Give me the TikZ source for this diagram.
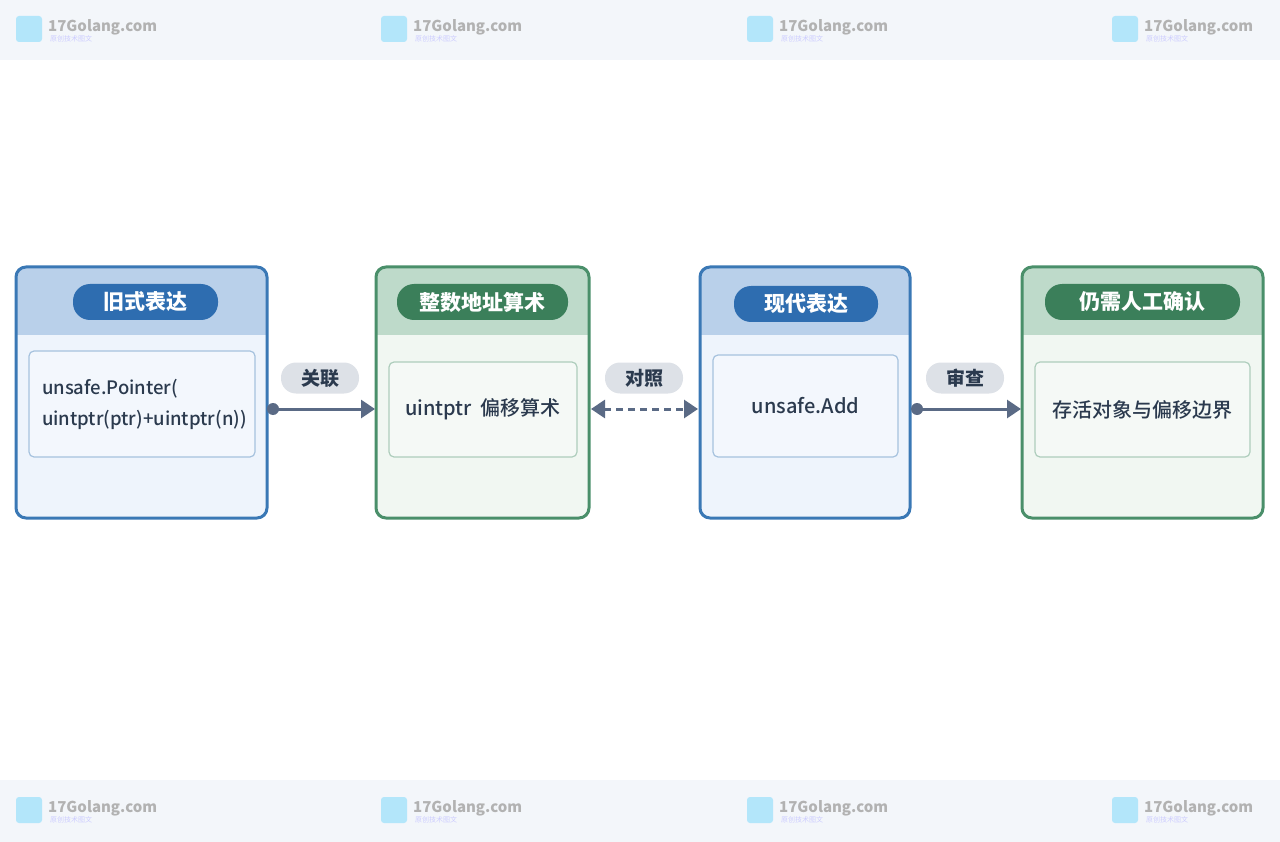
\documentclass[tikz,border=0pt]{standalone}
\usepackage{fontspec}
\setmainfont{Noto Sans CJK SC}
\newfontfamily\medf{Noto Sans CJK SC Medium}
\usetikzlibrary{arrows.meta}
\definecolor{bb}{HTML}{3A78B5}\definecolor{bh}{HTML}{B9D0EA}\definecolor{bf}{HTML}{EEF4FC}\definecolor{bp}{HTML}{2E6DB0}
\definecolor{gb}{HTML}{4A8F6A}\definecolor{gh}{HTML}{BEDACA}\definecolor{gf}{HTML}{F1F7F2}\definecolor{gp}{HTML}{3B7F5A}
\definecolor{ar}{HTML}{5A6A85}\definecolor{lp}{HTML}{DDE1E7}\definecolor{wm}{HTML}{F3F6FA}\definecolor{tx}{HTML}{2B3A4E}
\begin{document}
\begin{tikzpicture}[x=1pt,y=-1pt,
 pill/.style={rounded corners=17pt,text=white,font=\fontsize{21}{24}\selectfont\bfseries,minimum height=36pt,inner sep=0pt},
 inner/.style={draw=#1!45,line width=1.2pt,rounded corners=5pt,fill=white,fill opacity=0.35,text opacity=1,text=tx,font=\fontsize{20}{31}\selectfont\medf,align=left,inner sep=0pt},
 lab/.style={fill=lp,rounded corners=15pt,minimum width=78pt,minimum height=31pt,text=tx,font=\fontsize{19}{20}\selectfont\bfseries,inner sep=0pt},
 con/.style={draw=ar,line width=3pt,-{Triangle[length=14pt,width=18pt]}},
 wmt/.style={text=gray!60,font=\fontsize{15}{16}\selectfont\bfseries,anchor=west,inner sep=0pt}]
\useasboundingbox (0,0) rectangle (1280,842);
\fill[wm] (0,0) rectangle (1280,60);
\fill[wm] (0,780) rectangle (1280,842);
\foreach \x in {16,381,747,1112}{
 \foreach \y in {16,797}{
  \fill[cyan!30,rounded corners=3pt] (\x,\y) rectangle ++(26,26);
  \node[wmt] at (\x+32,\y+11) {17Golang.com};
  \node[anchor=west,inner sep=0pt,text=blue!20,font=\fontsize{7}{8}\selectfont] at (\x+34,\y+23) {原创技术图文};
 }}
\newcommand\mybox[3]{%
 \begin{scope}
 \clip[rounded corners=10pt] (#1,267) rectangle (#2,518);
 \fill[#3f] (#1,267) rectangle (#2,518);
 \fill[#3h] (#1,267) rectangle (#2,335);
 \end{scope}
 \draw[#3b,line width=3pt,rounded corners=10pt] (#1,267) rectangle (#2,518);
}
\mybox{16}{267}{b}
\mybox{376}{589}{g}
\mybox{700}{910}{b}
\mybox{1022}{1263}{g}
\node[pill,fill=bp,minimum width=145pt] (h1) at (145.5,302) {旧式表达};
\node[pill,fill=gp,minimum width=171pt] (h2) at (482.5,302) {整数地址算术};
\node[pill,fill=bp,minimum width=144pt] (h3) at (806,304) {现代表达};
\node[pill,fill=gp,minimum width=195pt] (h4) at (1142.5,302) {仍需人工确认};
\node[inner=bb,minimum width=226pt,minimum height=106pt,text width=200pt,font=\fontsize{18.5}{31}\selectfont\medf] (b1) at (142,404) {unsafe.Pointer(\\uintptr(ptr)+uintptr(n))};
\node[inner=gb,minimum width=188pt,minimum height=95pt,align=center] (b2) at (483,409.5) {uintptr\ \ 偏移算术};
\node[inner=bb,minimum width=185pt,minimum height=102pt,align=center] (b3) at (805.5,406) {unsafe.Add};
\node[inner=gb,minimum width=215pt,minimum height=95pt,align=center] (b4) at (1142.5,409.5) {存活对象与偏移边界};
\coordinate (s1) at (273,409); \coordinate (e1) at (375,409);
\coordinate (s2) at (591,409); \coordinate (e2) at (698,409);
\coordinate (s3) at (917,409); \coordinate (e3) at (1021,409);
\draw[con] (s1) -- (e1); \fill[ar] (s1) circle (6pt);
\draw[con,{Triangle[length=14pt,width=18pt]}-{Triangle[length=14pt,width=18pt]},dash pattern=on 7pt off 5pt] (s2) -- (e2);
\draw[con] (s3) -- (e3); \fill[ar] (s3) circle (6pt);
\node[lab] (l1) at (320,378) {关联};
\node[lab] (l2) at (644,378) {对照};
\node[lab] (l3) at (965,378) {审查};
\end{tikzpicture}
\end{document}
